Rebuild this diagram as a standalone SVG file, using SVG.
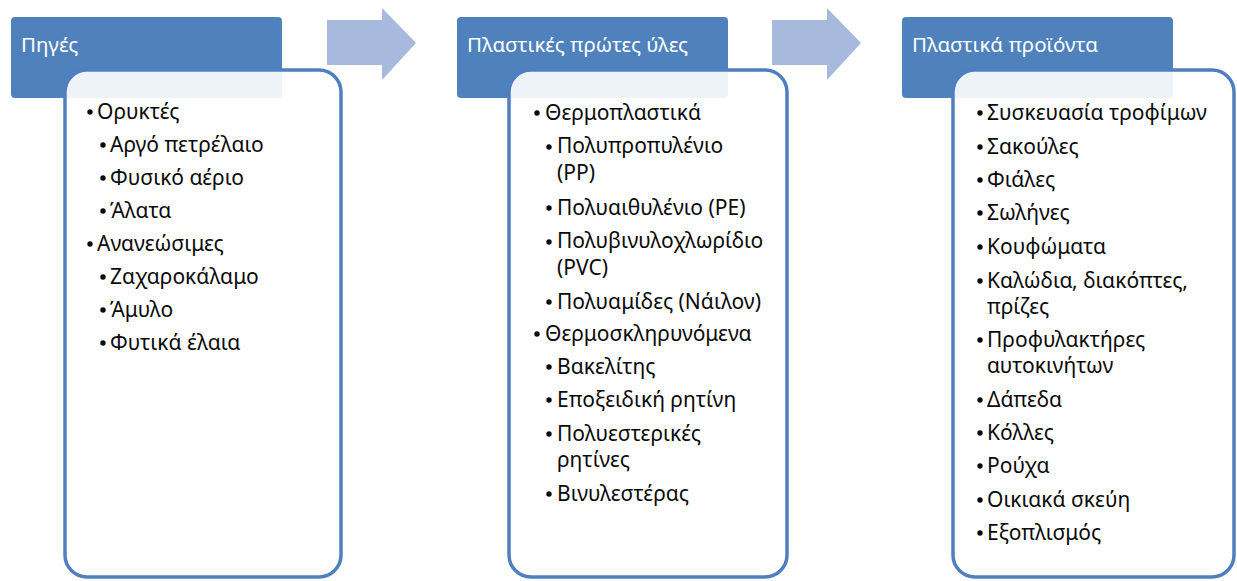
<svg xmlns="http://www.w3.org/2000/svg" width="1237" height="581" viewBox="0 0 1237 581">
<style>
.hdr{fill:#4f81bd;}
.box{fill:#ffffff;fill-opacity:0.9;stroke:#4f7fbe;stroke-width:3.5;}
.arr{fill:#a7b9dc;}
.ht{font-family:"Noto Sans","DejaVu Sans",sans-serif;font-size:20.5px;fill:#ffffff;}
.t{font-family:"Noto Sans","DejaVu Sans",sans-serif;font-size:21px;fill:#0a0a0a;}
.b{fill:#0a0a0a;}
</style>
<rect width="1237" height="581" fill="#ffffff"/>
<g id="connectors">
<path class="arr" d="M327,20 H382 V8 L416,43 L382,80 V65 H327 Z"/>
<path class="arr" d="M772,20 H827 V8 L861,43 L827,80 V65 H772 Z"/>
</g>
<g id="node-sources">
<rect class="hdr" x="11" y="17" width="271" height="81" rx="4"/>
<text class="ht" x="21" y="52">Πηγές</text>
<rect class="box" x="65" y="70" width="276" height="507" rx="22"/>
<g class="b"><circle cx="90" cy="112" r="2.7"/><circle cx="103" cy="145" r="2.7"/><circle cx="103" cy="178" r="2.7"/><circle cx="103" cy="211" r="2.7"/><circle cx="90" cy="244" r="2.7"/><circle cx="103" cy="277" r="2.7"/><circle cx="103" cy="310" r="2.7"/><circle cx="103" cy="343" r="2.7"/></g>
<text class="t" x="97" y="119">Ορυκτές</text>
<text class="t" x="110" y="152">Αργό πετρέλαιο</text>
<text class="t" x="110" y="185">Φυσικό αέριο</text>
<text class="t" x="110" y="218">Άλατα</text>
<text class="t" x="97" y="251">Ανανεώσιμες</text>
<text class="t" x="110" y="284">Ζαχαροκάλαμο</text>
<text class="t" x="110" y="317">Άμυλο</text>
<text class="t" x="110" y="350">Φυτικά έλαια</text>
</g>
<g id="node-raw">
<rect class="hdr" x="457" y="17" width="271" height="81" rx="4"/>
<text class="ht" x="467" y="52">Πλαστικές πρώτες ύλες</text>
<rect class="box" x="509" y="70" width="278" height="507" rx="22"/>
<g class="b"><circle cx="537" cy="113" r="2.7"/><circle cx="549" cy="147" r="2.7"/><circle cx="549" cy="208" r="2.7"/><circle cx="549" cy="242" r="2.7"/><circle cx="549" cy="302" r="2.7"/><circle cx="537" cy="334" r="2.7"/><circle cx="549" cy="367" r="2.7"/><circle cx="549" cy="400" r="2.7"/><circle cx="549" cy="434" r="2.7"/><circle cx="549" cy="494" r="2.7"/></g>
<text class="t" x="545" y="120">Θερμοπλαστικά</text>
<text class="t" x="557" y="153">Πολυπροπυλένιο<tspan x="557" dy="27">(PP)</tspan></text>
<text class="t" x="557" y="215">Πολυαιθυλένιο (PE)</text>
<text class="t" x="557" y="248">Πολυβινυλοχλωρίδιο<tspan x="557" dy="27">(PVC)</tspan></text>
<text class="t" x="557" y="309">Πολυαμίδες (Νάιλον)</text>
<text class="t" x="545" y="341">Θερμοσκληρυνόμενα</text>
<text class="t" x="557" y="374">Βακελίτης</text>
<text class="t" x="557" y="407">Εποξειδική ρητίνη</text>
<text class="t" x="557" y="441">Πολυεστερικές<tspan x="557" dy="26">ρητίνες</tspan></text>
<text class="t" x="557" y="501">Βινυλεστέρας</text>
</g>
<g id="node-products">
<rect class="hdr" x="902" y="17" width="271" height="81" rx="4"/>
<text class="ht" x="912" y="52">Πλαστικά προϊόντα</text>
<rect class="box" x="953" y="70" width="281" height="507" rx="22"/>
<g class="b"><circle cx="980" cy="113" r="2.7"/><circle cx="980" cy="147" r="2.7"/><circle cx="980" cy="180" r="2.7"/><circle cx="980" cy="213" r="2.7"/><circle cx="980" cy="247" r="2.7"/><circle cx="980" cy="281" r="2.7"/><circle cx="980" cy="340" r="2.7"/><circle cx="980" cy="400" r="2.7"/><circle cx="980" cy="433" r="2.7"/><circle cx="980" cy="466" r="2.7"/><circle cx="980" cy="500" r="2.7"/><circle cx="980" cy="533" r="2.7"/></g>
<text class="t" x="987" y="120">Συσκευασία τροφίμων</text>
<text class="t" x="987" y="154">Σακούλες</text>
<text class="t" x="987" y="187">Φιάλες</text>
<text class="t" x="987" y="220">Σωλήνες</text>
<text class="t" x="987" y="254">Κουφώματα</text>
<text class="t" x="987" y="288">Καλώδια, διακόπτες,<tspan x="987" dy="26">πρίζες</tspan></text>
<text class="t" x="987" y="347">Προφυλακτήρες<tspan x="987" dy="26">αυτοκινήτων</tspan></text>
<text class="t" x="987" y="407">Δάπεδα</text>
<text class="t" x="987" y="440">Κόλλες</text>
<text class="t" x="987" y="473">Ρούχα</text>
<text class="t" x="987" y="507">Οικιακά σκεύη</text>
<text class="t" x="987" y="540">Εξοπλισμός</text>
</g>
</svg>
